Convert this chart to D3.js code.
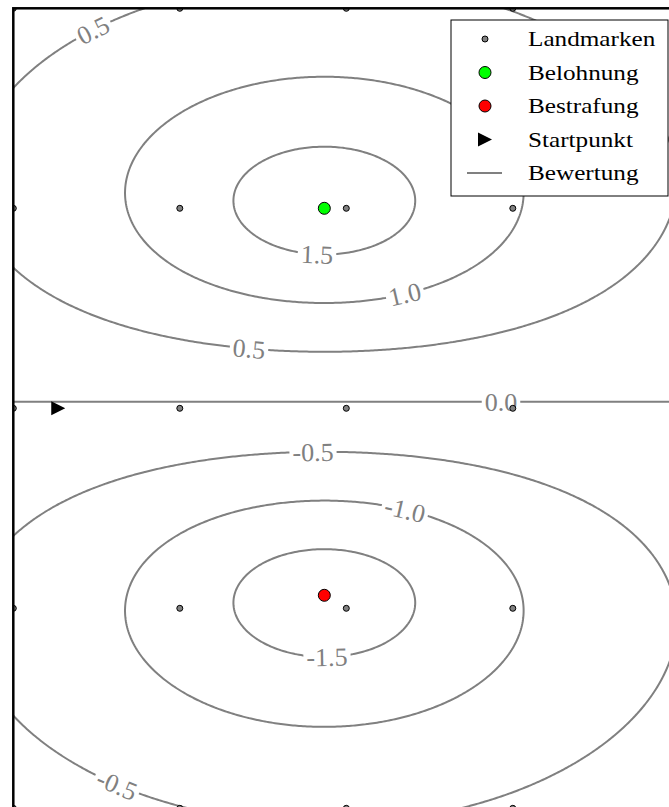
<!DOCTYPE html>
<html>
<head>
<meta charset="utf-8">
<script src="https://cdn.jsdelivr.net/npm/d3@7"></script>
<style>
  body { margin: 0; background: #fff; }
  svg { display: block; }
</style>
</head>
<body>
<svg width="669" height="807"></svg>
<script>
// landmark grid (data units)
var landmarkX = [0, 1, 2, 3, 4];
var landmarkY = [0, 1, 2, 3, 4];
// special points
var reward = [1.868, 3.0];
var punishment = [1.868, 1.065];
var start = [0.27, 2.0];
// contour levels of the value field
var levels = [-1.5, -1.0, -0.5, 0.0, 0.5, 1.0, 1.5];
// value field: reward bump minus punishment bump
var amplitude = 2.02, reach = 0.9, shape = 1.3, xStretch = 0.509;
// where the inline contour labels sit (level, approx. x, y)
var labelLevels = [0.5, 1.5, 1.0, 0.5, 0.0, -0.5, -1.0, -1.5, -0.5];
var labelX = [0.48, 1.83, 2.35, 1.41, 2.93, 1.80, 2.35, 1.88, 0.59];
var labelY = [3.89, 2.78, 2.57, 2.30, 2.03, 1.78, 1.49, 0.74, 0.04];
var legendLabels = ['Landmarken', 'Belohnung', 'Bestrafung', 'Startpunkt', 'Bewertung'];

var svg = d3.select('svg');
var x = d3.scaleLinear().domain([0, 4]).range([13.3, 679.3]);
var y = d3.scaleLinear().domain([0, 4]).range([808.3, 8.3]);
var grey = '#808080';

function bump(px, py, p) {
    var dx = (px - p[0]) * xStretch, dy = py - p[1];
    return Math.exp(-Math.pow(Math.sqrt(dx * dx + dy * dy) / reach, shape));
}
function value(px, py) {
    return amplitude * (bump(px, py, reward) - bump(px, py, punishment));
}

// clip to the axes box
svg.append('clipPath').attr('id', 'box')
    .append('rect')
        .attr('x', x(0)).attr('y', y(4))
        .attr('width', x(4) - x(0)).attr('height', y(0) - y(4));

var plot = svg.append('g').attr('clip-path', 'url(#box)');

// sample the field on a pixel grid
var step = 2, gx0 = 3, gy0 = -2;
var nx = 346, ny = 412;
var values = new Array(nx * ny);
for (var j = 0; j < ny; j++) {
    for (var i = 0; i < nx; i++) {
        values[j * nx + i] = value(x.invert(gx0 + i * step), y.invert(gy0 + j * step));
    }
}
var contours = d3.contours().size([nx, ny]).thresholds(levels)(values);
var toPx = function(g) { return [gx0 + (g[0] - 0.5) * step, gy0 + (g[1] - 0.5) * step]; };
var path = d3.geoPath(d3.geoTransform({
    point: function(a, b) { var p = toPx([a, b]); this.stream.point(p[0], p[1]); }
}));

plot.selectAll('path.contour')
    .data(contours)
    .enter()
    .append('path')
        .attr('class', 'contour')
        .attr('d', path)
        .attr('fill', 'none')
        .attr('stroke', grey)
        .attr('stroke-width', 2);

// inline labels: snap to the contour and follow its direction
labelLevels.forEach(function(lv, k) {
    var c = contours[levels.indexOf(lv)];
    var hx = x(labelX[k]), hy = y(labelY[k]);
    var best = null;
    c.coordinates.forEach(function(poly) {
        poly.forEach(function(ring) {
            var pts = ring.map(toPx);
            pts.forEach(function(p, idx) {
                var d = (p[0] - hx) * (p[0] - hx) + (p[1] - hy) * (p[1] - hy);
                if (!best || d < best.d) best = { d: d, pts: pts, idx: idx };
            });
        });
    });
    var pts = best.pts, n = pts.length;
    var p = pts[best.idx];
    var a = pts[(best.idx + 4) % n], b = pts[(best.idx - 4 + n) % n];
    var ang = Math.atan2(a[1] - b[1], a[0] - b[0]) * 180 / Math.PI;
    if (ang > 90) ang -= 180;
    if (ang < -90) ang += 180;
    var g = plot.append('g')
        .attr('transform', 'translate(' + p[0] + ',' + p[1] + ') rotate(' + ang + ')');
    var bg = g.append('rect').attr('fill', '#fff');
    var t = g.append('text')
        .attr('text-anchor', 'middle')
        .attr('dy', '0.35em')
        .attr('font-family', 'Liberation Serif, serif')
        .attr('font-size', 26)
        .attr('fill', grey)
        .text(d3.format('.1f')(lv).replace('\u2212', '-'));
    var w = t.node().getComputedTextLength() + 6;
    bg.attr('x', -w / 2).attr('y', -4).attr('width', w).attr('height', 8);
});

// landmarks
var grid = [];
landmarkY.forEach(function(ly) { landmarkX.forEach(function(lx) { grid.push([lx, ly]); }); });
plot.selectAll('circle.landmark')
    .data(grid)
    .enter()
    .append('circle')
        .attr('class', 'landmark')
        .attr('cx', function(d) { return x(d[0]); })
        .attr('cy', function(d) { return y(d[1]); })
        .attr('r', 3)
        .attr('fill', grey)
        .attr('stroke', 'black')
        .attr('stroke-width', 1);

var tri = 'M7,0L-7,-7L-7,7Z';

plot.append('circle')
    .attr('cx', x(reward[0])).attr('cy', y(reward[1])).attr('r', 6)
    .attr('fill', '#00ff00').attr('stroke', 'black').attr('stroke-width', 1);
plot.append('circle')
    .attr('cx', x(punishment[0])).attr('cy', y(punishment[1])).attr('r', 6)
    .attr('fill', '#ff0000').attr('stroke', 'black').attr('stroke-width', 1);
plot.append('path')
    .attr('d', tri)
    .attr('transform', 'translate(' + x(start[0]) + ',' + y(start[1]) + ')')
    .attr('fill', 'black');

// spines (only left and top fall inside the picture)
svg.append('rect')
    .attr('x', x(0)).attr('y', y(4))
    .attr('width', x(4) - x(0)).attr('height', y(0) - y(4))
    .attr('fill', 'none').attr('stroke', 'black').attr('stroke-width', 2.5);

// legend
var legend = svg.append('g').attr('transform', 'translate(451,20)');
legend.append('rect')
    .attr('width', 217).attr('height', 176)
    .attr('fill', 'white').attr('stroke', 'black').attr('stroke-width', 1);

legendLabels.forEach(function(label, i) {
    var cy = 19 + i * 33.5;
    var row = legend.append('g').attr('transform', 'translate(34,' + cy + ')');
    if (i == 0) {
        row.append('circle').attr('r', 3).attr('fill', grey).attr('stroke', 'black');
    } else if (i == 1 || i == 2) {
        row.append('circle').attr('r', 6)
            .attr('fill', i == 1 ? '#00ff00' : '#ff0000').attr('stroke', 'black');
    } else if (i == 3) {
        row.append('path').attr('d', tri).attr('fill', 'black');
    } else {
        row.append('line').attr('x1', -18).attr('x2', 17)
            .attr('stroke', grey).attr('stroke-width', 2);
    }
    legend.append('text')
        .attr('transform', 'translate(77,' + (cy + 7) + ') scale(1.2,1)')
        .attr('font-family', 'Liberation Serif, serif')
        .attr('font-size', 21)
        .attr('fill', 'black')
        .text(label);
});
</script>
</body>
</html>
